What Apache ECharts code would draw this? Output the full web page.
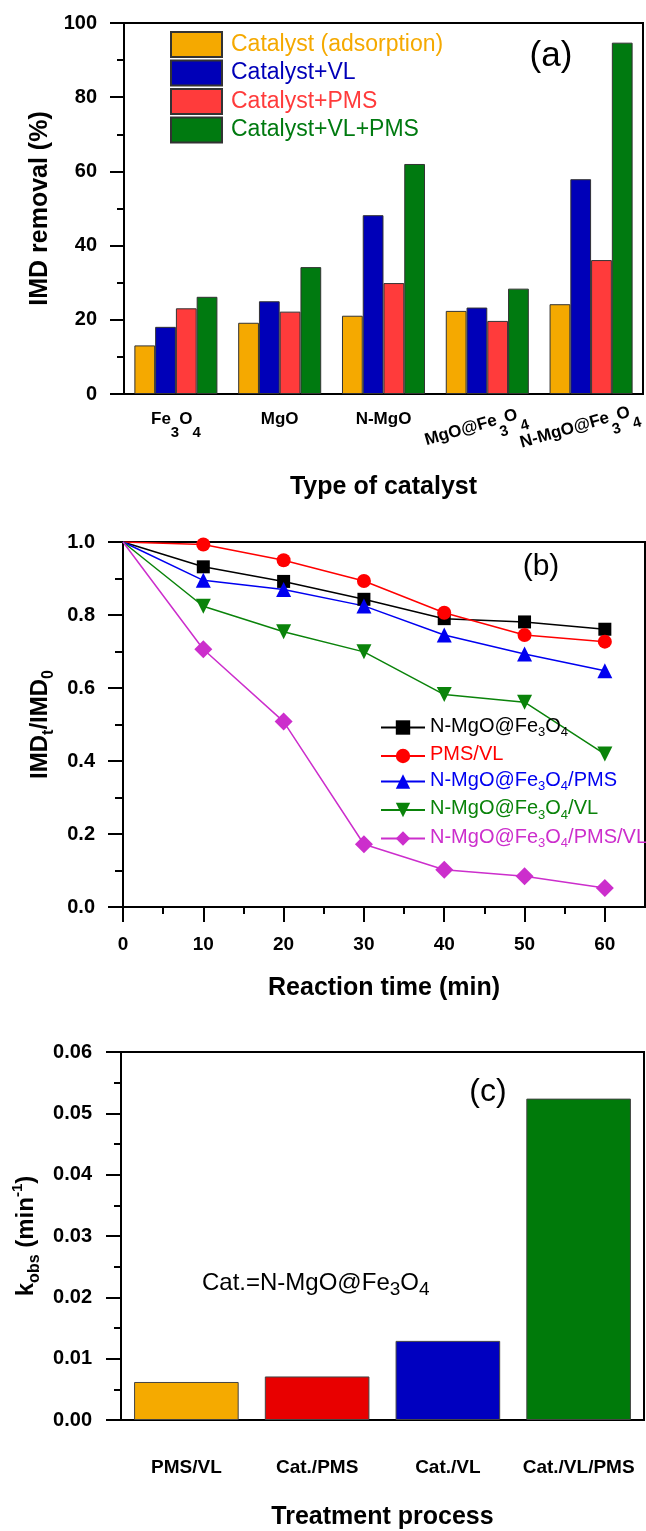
<!DOCTYPE html>
<html><head><meta charset="utf-8">
<script src="https://cdn.jsdelivr.net/npm/echarts@6/dist/echarts.min.js"></script>
<style>html,body{margin:0;padding:0;background:#fff}#c{width:646px;height:1531px}</style>
</head><body><div id="c"></div>
<script>
const FONT = 'Liberation Sans, Arial, sans-serif';

// ---------- Panel (a) data ----------
const catalystLabels = ['Fe3O4', 'MgO', 'N-MgO', 'MgO@Fe3O4', 'N-MgO@Fe3O4'];
const barNames = ['Catalyst (adsorption)', 'Catalyst+VL', 'Catalyst+PMS', 'Catalyst+VL+PMS'];
const removalAdsorption = [13.1, 19.2, 21.1, 22.4, 24.2];
const removalVL = [18.1, 25.0, 48.2, 23.3, 57.9];
const removalPMS = [23.1, 22.2, 29.9, 19.7, 36.1];
const removalVLPMS = [26.2, 34.2, 62.0, 28.4, 94.7];

// ---------- Panel (b) data ----------
const times = [0, 10, 20, 30, 40, 50, 60];
const lineNames = ['N-MgO@Fe3O4', 'PMS/VL', 'N-MgO@Fe3O4/PMS', 'N-MgO@Fe3O4/VL', 'N-MgO@Fe3O4/PMS/VL'];
const ratioCatalyst = [1.0, 0.932, 0.892, 0.843, 0.790, 0.781, 0.761];
const ratioPMSVL = [1.0, 0.993, 0.950, 0.893, 0.806, 0.745, 0.727];
const ratioCatPMS = [1.0, 0.895, 0.870, 0.825, 0.745, 0.693, 0.647];
const ratioCatVL = [1.0, 0.824, 0.754, 0.699, 0.582, 0.561, 0.419];
const ratioCatPMSVL = [1.0, 0.706, 0.508, 0.172, 0.102, 0.084, 0.052];
const timeMajorTicks = [0, 10, 20, 30, 40, 50, 60];
const timeMinorTicks = [5, 15, 25, 35, 45, 55];

// ---------- Panel (c) data ----------
const processes = ['PMS/VL', 'Cat./PMS', 'Cat./VL', 'Cat./VL/PMS'];
const kobs = [0.0062, 0.0071, 0.0129, 0.0524];

// ---------- styles ----------
const barColors = ['#F5A900', '#0000B8', '#FF3B3B', '#007A10'];
const lineColors = ['#000000', '#FF0000', '#0000F0', '#0A830A', '#CC2ECC'];
const lineSymbols = ['rect', 'circle', 'triangle', 'triangle', 'diamond'];
const lineSymbolSizes = [13, 14, 15, 15, 18];
const lineSymbolRotate = [0, 0, 0, 180, 0];
const processColors = ['#F5AA00', '#E80000', '#0000C0', '#007A0A'];

function subFmt(str, n, s) {
  return str.split(/(\d)/).filter(p => p !== '').map(p => /^\d$/.test(p) ? '{' + s + '|' + p + '}' : '{' + n + '|' + p + '}').join('');
}

const black = '#000';
const axisLineStyle = { color: black, width: 2 };

const xLabRich = {
  b: { fontSize: 17, fontWeight: 'bold', fontFamily: FONT, color: black, lineHeight: 17, verticalAlign: 'top' },
  s: { fontSize: 15, fontWeight: 'bold', fontFamily: FONT, color: black, lineHeight: 15, padding: [14, 0, 0, 0], verticalAlign: 'top' }
};

const legendRich = {};
lineColors.forEach((c, i) => {
  legendRich['n' + i] = { fontSize: 20, fontFamily: FONT, color: c, lineHeight: 23, verticalAlign: 'top' };
  legendRich['s' + i] = { fontSize: 13, fontFamily: FONT, color: c, lineHeight: 13, padding: [10, 0, 0, 0], verticalAlign: 'top' };
});

const nameStyle = { fontSize: 25, fontWeight: 'bold', fontFamily: FONT, color: black };
const tickLab = { fontWeight: 'bold', fontFamily: FONT, color: black };

const option = {
  animation: false,
  backgroundColor: '#fff',
  grid: [
    { left: 124, top: 23, width: 521, height: 371, show: true, borderColor: black, borderWidth: 2 },
    { left: 123, top: 542, width: 522, height: 365, show: true, borderColor: black, borderWidth: 2 },
    { left: 121, top: 1052, width: 523, height: 369, show: true, borderColor: black, borderWidth: 2 }
  ],
  xAxis: [
    { // (a) main
      type: 'category', gridIndex: 0, data: catalystLabels,
      axisLine: { lineStyle: axisLineStyle },
      axisTick: { alignWithLabel: true, length: 16, lineStyle: { width: 2, color: black } },
      axisLabel: { interval: 0, margin: 17, rich: xLabRich,
        formatter: (v, i) => i < 3 ? subFmt(v, 'b', 's') : '' },
      name: 'Type of catalyst', nameLocation: 'middle', nameGap: 81, nameTextStyle: nameStyle
    },
    { // (a) boundary ticks + rotated labels
      type: 'category', gridIndex: 0, position: 'bottom', data: catalystLabels,
      axisLine: { show: false },
      axisTick: { alignWithLabel: false, length: 7, lineStyle: { width: 2, color: black } },
      axisLabel: { interval: 0, rotate: 16, align: 'center', verticalAlign: 'top', margin: 20, padding: [0, 30, 0, 0], rich: xLabRich,
        formatter: (v, i) => i >= 3 ? subFmt(v, 'b', 's') : '' }
    },
    { // (b) main
      type: 'value', gridIndex: 1, min: 0, max: 65, interval: 10,
      axisLine: { lineStyle: axisLineStyle },
      axisTick: { length: 15, customValues: timeMajorTicks, lineStyle: { width: 2, color: black } },
      axisLabel: Object.assign({ customValues: timeMajorTicks, margin: 28, fontSize: 19,
        formatter: v => (v % 10 === 0 && v <= 60) ? String(v) : '' }, tickLab),
      splitLine: { show: false },
      name: 'Reaction time (min)', nameLocation: 'middle', nameGap: 69, nameTextStyle: nameStyle
    },
    { // (b) minor ticks
      type: 'value', gridIndex: 1, position: 'bottom', min: 0, max: 65, interval: 5,
      axisLine: { show: false },
      axisTick: { length: 7, customValues: timeMinorTicks, lineStyle: { width: 2, color: black } },
      axisLabel: { show: false }, splitLine: { show: false }
    },
    { // (c) main
      type: 'category', gridIndex: 2, data: processes,
      axisLine: { lineStyle: axisLineStyle },
      axisTick: { alignWithLabel: true, length: 16, lineStyle: { width: 2, color: black } },
      axisLabel: Object.assign({ interval: 0, margin: 38, fontSize: 19 }, tickLab),
      name: 'Treatment process', nameLocation: 'middle', nameGap: 85, nameTextStyle: nameStyle
    },
    { // (c) boundary ticks
      type: 'category', gridIndex: 2, position: 'bottom', data: processes,
      axisLine: { show: false },
      axisTick: { alignWithLabel: false, length: 7, lineStyle: { width: 2, color: black } },
      axisLabel: { show: false }
    }
  ],
  yAxis: [
    {
      type: 'value', gridIndex: 0, min: 0, max: 100, interval: 20,
      axisLine: { show: true, lineStyle: axisLineStyle },
      axisTick: { show: true, length: 14, lineStyle: { width: 2, color: black } },
      minorTick: { show: true, splitNumber: 2, length: 7, lineStyle: { width: 2, color: black } },
      axisLabel: Object.assign({ margin: 27, fontSize: 20 }, tickLab),
      splitLine: { show: false },
      name: 'IMD removal (%)', nameLocation: 'middle', nameGap: 71, nameTextStyle: nameStyle
    },
    {
      type: 'value', gridIndex: 1, min: 0, max: 1, interval: 0.2,
      axisLine: { show: true, lineStyle: axisLineStyle },
      axisTick: { show: true, length: 15, lineStyle: { width: 2, color: black } },
      minorTick: { show: true, splitNumber: 2, length: 8, lineStyle: { width: 2, color: black } },
      axisLabel: Object.assign({ margin: 28, fontSize: 20, formatter: v => v.toFixed(1) }, tickLab),
      splitLine: { show: false },
      name: '{n|IMD}{s|t}{n|/IMD}{s|0}', nameLocation: 'middle', nameGap: 67,
      nameTextStyle: { rich: {
        n: { fontSize: 24, fontWeight: 'bold', fontFamily: FONT, color: black, lineHeight: 26, verticalAlign: 'top' },
        s: { fontSize: 16, fontWeight: 'bold', fontFamily: FONT, color: black, lineHeight: 16, padding: [12, 0, 0, 0], verticalAlign: 'top' }
      } }
    },
    {
      type: 'value', gridIndex: 2, min: 0, max: 0.06, interval: 0.01,
      axisLine: { show: true, lineStyle: axisLineStyle },
      axisTick: { show: true, length: 15, lineStyle: { width: 2, color: black } },
      minorTick: { show: true, splitNumber: 2, length: 7, lineStyle: { width: 2, color: black } },
      axisLabel: Object.assign({ margin: 29, fontSize: 20, formatter: v => v.toFixed(2) }, tickLab),
      splitLine: { show: false },
      name: '{n|k}{s|obs}{n| (min}{p|-1}{n|)}', nameLocation: 'middle', nameGap: 78,
      nameTextStyle: { rich: {
        n: { fontSize: 24, fontWeight: 'bold', fontFamily: FONT, color: black, lineHeight: 26, padding: [6, 0, 0, 0], verticalAlign: 'top' },
        s: { fontSize: 16, fontWeight: 'bold', fontFamily: FONT, color: black, lineHeight: 16, padding: [18, 0, 0, 0], verticalAlign: 'top' },
        p: { fontSize: 15, fontWeight: 'bold', fontFamily: FONT, color: black, lineHeight: 15, padding: [2, 0, 0, 0], verticalAlign: 'top' }
      } }
    }
  ],
  legend: [
    {
      data: barNames.map((n, i) => ({ name: n, textStyle: { color: barColors[i] } })),
      left: 170, top: 31, padding: 0, orient: 'vertical', icon: 'rect', selectedMode: false,
      itemWidth: 51, itemHeight: 25, itemGap: 1.5,
      textStyle: { fontSize: 23, fontFamily: FONT, padding: [0, 0, 0, 4] }
    },
    {
      data: lineNames.map((n) => ({ name: n })),
      left: 380, top: 716, padding: 0, orient: 'vertical', selectedMode: false,
      itemWidth: 44, itemHeight: 18, itemGap: 5.5,
      formatter: name => { const i = lineNames.indexOf(name); return subFmt(name, 'n' + i, 's' + i); },
      textStyle: { rich: legendRich }
    }
  ],
  series: [],
  graphic: [
    { type: 'text', x: 551, y: 56, style: { text: '(a)', fontSize: 35, fontFamily: FONT, fill: black, align: 'center', verticalAlign: 'middle' } },
    { type: 'text', x: 541, y: 567, style: { text: '(b)', fontSize: 30, fontFamily: FONT, fill: black, align: 'center', verticalAlign: 'middle' } },
    { type: 'text', x: 488, y: 1092, style: { text: '(c)', fontSize: 32, fontFamily: FONT, fill: black, align: 'center', verticalAlign: 'middle' } },
    { type: 'text', x: 202, y: 1284, style: {
      text: subFmt('Cat.=N-MgO@Fe3O4', 'n', 's'), align: 'left', verticalAlign: 'middle',
      rich: {
        n: { fontSize: 24, fontFamily: FONT, fill: black, lineHeight: 26, verticalAlign: 'top' },
        s: { fontSize: 19, fontFamily: FONT, fill: black, lineHeight: 19, padding: [9, 0, 0, 0], verticalAlign: 'top' }
      } } }
  ]
};

const aSeries = [removalAdsorption, removalVL, removalPMS, removalVLPMS];
aSeries.forEach((vals, i) => {
  option.series.push({
    name: barNames[i], type: 'bar', xAxisIndex: 0, yAxisIndex: 0, data: vals,
    barWidth: '20%', barGap: '0%',
    itemStyle: { color: barColors[i], borderColor: '#333', borderWidth: 1 }
  });
});

const bSeries = [ratioCatalyst, ratioPMSVL, ratioCatPMS, ratioCatVL, ratioCatPMSVL];
bSeries.forEach((vals, i) => {
  option.series.push({
    name: lineNames[i], type: 'line', xAxisIndex: 2, yAxisIndex: 1,
    data: times.map((t, k) => k === 0 ? { value: [t, vals[k]], symbol: 'none' } : [t, vals[k]]),
    symbol: lineSymbols[i], symbolSize: lineSymbolSizes[i], symbolRotate: lineSymbolRotate[i],
    lineStyle: { color: lineColors[i], width: 1.5 },
    itemStyle: { color: lineColors[i] }
  });
});

option.series.push({
  name: 'kobs', type: 'bar', xAxisIndex: 4, yAxisIndex: 2, barWidth: '80%',
  data: kobs.map((v, i) => ({ value: v, itemStyle: { color: processColors[i] } })),
  itemStyle: { borderColor: '#444', borderWidth: 1 }
});

const chart = echarts.init(document.getElementById('c'), null, { renderer: 'canvas' });
chart.setOption(option);
</script>
</body></html>
